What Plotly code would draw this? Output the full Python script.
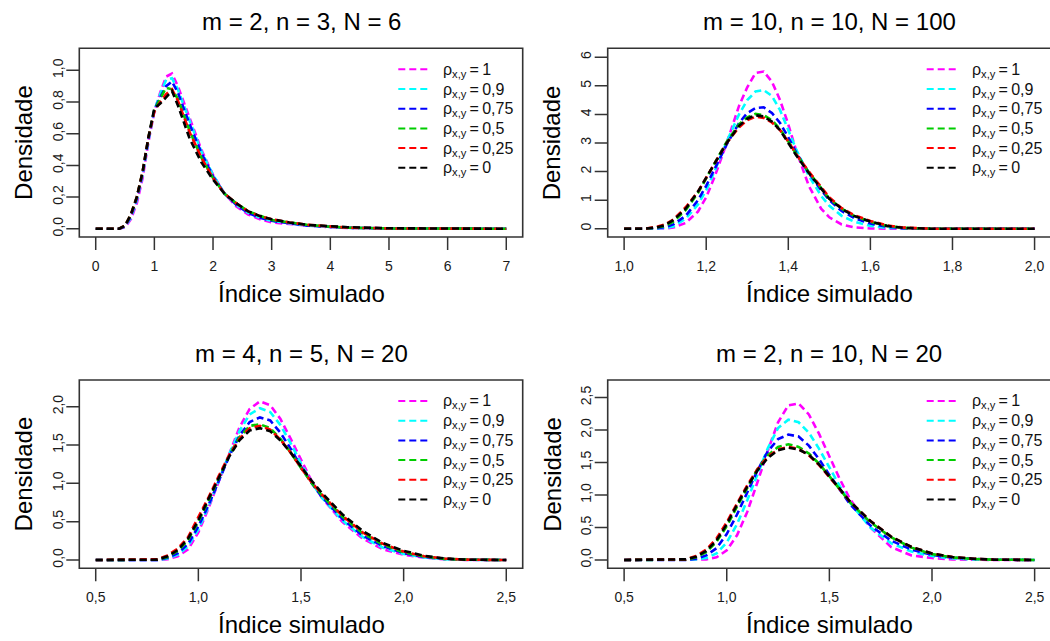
import plotly.graph_objects as go

FONT = "Liberation Sans, Arial, sans-serif"
W, H = 1050, 641

# ---------------- data ----------------
rho_labels = ["1", "0,9", "0,75", "0,5", "0,25", "0"]
colors = ["#FF00FF", "#00FFFF", "#0000FF", "#00CD00", "#FF0000", "#000000"]
panel_titles = ["m = 2, n = 3, N = 6", "m = 10, n = 10, N = 100",
                "m = 4, n = 5, N = 20", "m = 2, n = 10, N = 20"]

# Panel 1: m = 2, n = 3, N = 6
p1_x = [0, 0.4, 0.5, 0.6, 0.7, 0.8, 0.9, 1.0, 1.1, 1.2, 1.3, 1.4, 1.5, 1.6, 1.8, 2.0,
        2.2, 2.4, 2.6, 2.8, 3.0, 3.3, 3.6, 4.0, 4.3, 5, 6, 7]
p1_rho_1 = [0, 0, 0.01, 0.06, 0.16, 0.32, 0.55, 0.74, 0.86, 0.96, 0.98, 0.90, 0.80, 0.70, 0.50, 0.34,
            0.22, 0.14, 0.09, 0.06, 0.04, 0.03, 0.02, 0.01, 0.005, 0.002, 0.001, 0]
p1_rho_09 = [0, 0, 0.015, 0.07, 0.18, 0.34, 0.56, 0.75, 0.85, 0.94, 0.95, 0.88, 0.78, 0.68, 0.49, 0.34,
             0.22, 0.15, 0.10, 0.07, 0.05, 0.035, 0.02, 0.012, 0.006, 0.002, 0.001, 0]
p1_rho_075 = [0, 0, 0.015, 0.08, 0.19, 0.35, 0.57, 0.75, 0.83, 0.90, 0.93, 0.86, 0.76, 0.66, 0.48, 0.33,
              0.22, 0.15, 0.10, 0.07, 0.05, 0.035, 0.02, 0.012, 0.006, 0.002, 0.001, 0]
p1_rho_05 = [0, 0, 0.02, 0.09, 0.20, 0.36, 0.58, 0.75, 0.82, 0.89, 0.88, 0.82, 0.72, 0.62, 0.45, 0.32,
             0.22, 0.16, 0.11, 0.08, 0.055, 0.04, 0.025, 0.013, 0.007, 0.002, 0.001, 0]
p1_rho_025 = [0, 0, 0.02, 0.09, 0.20, 0.36, 0.58, 0.74, 0.80, 0.85, 0.88, 0.81, 0.71, 0.61, 0.45, 0.32,
              0.22, 0.16, 0.11, 0.08, 0.06, 0.04, 0.025, 0.014, 0.007, 0.002, 0.001, 0]
p1_rho_0 = [0, 0, 0.02, 0.09, 0.20, 0.36, 0.58, 0.76, 0.79, 0.83, 0.87, 0.78, 0.67, 0.57, 0.42, 0.31,
            0.22, 0.16, 0.11, 0.08, 0.06, 0.04, 0.025, 0.015, 0.01, 0.003, 0.001, 0]

# Panel 2: m = 10, n = 10, N = 100
p2_x = [1.0, 1.05, 1.08, 1.1, 1.12, 1.15, 1.18, 1.2, 1.22, 1.25, 1.28, 1.3, 1.32, 1.34, 1.36,
        1.38, 1.4, 1.42, 1.45, 1.48, 1.5, 1.53, 1.56, 1.6, 1.64, 1.68, 1.75, 1.85, 2.0]
p2_rho_1 = [0, 0, 0, 0.01, 0.04, 0.2, 0.6, 1.1, 1.8, 3.0, 4.3, 4.95, 5.45, 5.5, 5.15,
            4.5, 3.65, 2.7, 1.5, 0.7, 0.4, 0.15, 0.05, 0.01, 0, 0, 0, 0, 0]
p2_rho_09 = [0, 0, 0.01, 0.03, 0.08, 0.35, 0.85, 1.35, 2.0, 3.05, 4.0, 4.5, 4.8, 4.85, 4.65,
             4.15, 3.45, 2.75, 1.85, 1.15, 0.8, 0.45, 0.25, 0.1, 0.03, 0.01, 0, 0, 0]
p2_rho_075 = [0, 0, 0.02, 0.06, 0.15, 0.45, 1.0, 1.5, 2.1, 2.95, 3.7, 4.05, 4.22, 4.25, 4.05,
              3.7, 3.2, 2.65, 1.95, 1.35, 1.0, 0.62, 0.38, 0.18, 0.07, 0.02, 0, 0, 0]
p2_rho_05 = [0, 0, 0.04, 0.1, 0.25, 0.65, 1.25, 1.75, 2.3, 3.05, 3.65, 3.9, 4.02, 3.98, 3.8,
             3.48, 3.05, 2.6, 1.98, 1.42, 1.05, 0.7, 0.45, 0.24, 0.1, 0.03, 0, 0, 0]
p2_rho_025 = [0, 0, 0.07, 0.15, 0.32, 0.75, 1.3, 1.8, 2.3, 3.0, 3.55, 3.8, 3.92, 3.88, 3.72,
              3.45, 3.05, 2.6, 2.0, 1.45, 1.1, 0.72, 0.48, 0.27, 0.12, 0.04, 0, 0, 0]
p2_rho_0 = [0, 0, 0.05, 0.13, 0.3, 0.7, 1.3, 1.8, 2.3, 3.0, 3.6, 3.85, 3.97, 3.93, 3.75,
            3.45, 3.0, 2.55, 1.95, 1.4, 1.05, 0.7, 0.45, 0.25, 0.1, 0.03, 0, 0, 0]

# Panel 3: m = 4, n = 5, N = 20
p3_x = [0.5, 0.8, 0.85, 0.9, 0.95, 1.0, 1.05, 1.1, 1.15, 1.2, 1.25, 1.3, 1.35, 1.4, 1.45,
        1.5, 1.55, 1.6, 1.7, 1.8, 1.9, 2.0, 2.1, 2.2, 2.3, 2.5]
p3_rho_1 = [0, 0, 0.01, 0.05, 0.14, 0.36, 0.68, 1.03, 1.4, 1.73, 1.97, 2.07, 2.02, 1.84, 1.58,
            1.3, 1.04, 0.82, 0.5, 0.28, 0.14, 0.07, 0.03, 0.01, 0.002, 0]
p3_rho_09 = [0, 0, 0.02, 0.07, 0.18, 0.4, 0.7, 1.03, 1.38, 1.68, 1.9, 1.98, 1.93, 1.76, 1.52,
             1.26, 1.02, 0.82, 0.52, 0.3, 0.16, 0.08, 0.035, 0.01, 0.003, 0]
p3_rho_075 = [0, 0, 0.03, 0.09, 0.21, 0.44, 0.72, 1.03, 1.35, 1.62, 1.8, 1.86, 1.82, 1.66, 1.45,
              1.22, 1.01, 0.83, 0.54, 0.32, 0.18, 0.09, 0.04, 0.015, 0.005, 0]
p3_rho_05 = [0, 0.005, 0.04, 0.12, 0.26, 0.5, 0.78, 1.07, 1.36, 1.6, 1.75, 1.77, 1.72, 1.58, 1.4,
             1.2, 1.01, 0.85, 0.57, 0.35, 0.2, 0.1, 0.045, 0.015, 0.005, 0]
p3_rho_025 = [0, 0.01, 0.06, 0.15, 0.3, 0.55, 0.82, 1.1, 1.37, 1.58, 1.72, 1.75, 1.7, 1.57, 1.4,
              1.2, 1.02, 0.86, 0.58, 0.36, 0.21, 0.11, 0.05, 0.02, 0.005, 0]
p3_rho_0 = [0, 0.005, 0.05, 0.13, 0.28, 0.52, 0.8, 1.08, 1.35, 1.56, 1.69, 1.72, 1.68, 1.56, 1.40,
            1.22, 1.04, 0.88, 0.6, 0.38, 0.22, 0.12, 0.055, 0.02, 0.005, 0]

# Panel 4: m = 2, n = 10, N = 20
p4_x = p3_x
p4_rho_1 = [0, 0, 0, 0.01, 0.04, 0.15, 0.38, 0.74, 1.2, 1.68, 2.12, 2.38, 2.41, 2.24, 1.94,
            1.59, 1.25, 0.94, 0.5, 0.2, 0.07, 0.03, 0.01, 0.003, 0, 0]
p4_rho_09 = [0, 0, 0.01, 0.03, 0.1, 0.27, 0.55, 0.92, 1.33, 1.72, 2.03, 2.16, 2.12, 1.96, 1.71,
             1.42, 1.14, 0.88, 0.5, 0.26, 0.13, 0.06, 0.025, 0.01, 0.003, 0]
p4_rho_075 = [0, 0, 0.02, 0.07, 0.18, 0.4, 0.7, 1.03, 1.38, 1.67, 1.86, 1.93, 1.9, 1.76, 1.55,
              1.31, 1.08, 0.86, 0.53, 0.3, 0.16, 0.08, 0.035, 0.015, 0.005, 0]
p4_rho_05 = [0, 0.005, 0.04, 0.12, 0.28, 0.52, 0.82, 1.12, 1.4, 1.61, 1.74, 1.78, 1.74, 1.64, 1.48,
             1.29, 1.09, 0.89, 0.58, 0.35, 0.19, 0.09, 0.04, 0.015, 0.005, 0]
p4_rho_025 = [0, 0.01, 0.06, 0.16, 0.33, 0.58, 0.87, 1.15, 1.4, 1.59, 1.7, 1.74, 1.71, 1.61, 1.46,
              1.28, 1.09, 0.9, 0.6, 0.36, 0.2, 0.1, 0.045, 0.02, 0.005, 0]
p4_rho_0 = [0, 0.01, 0.05, 0.14, 0.3, 0.55, 0.85, 1.13, 1.38, 1.57, 1.69, 1.73, 1.70, 1.62, 1.47,
            1.29, 1.1, 0.9, 0.6, 0.36, 0.2, 0.1, 0.045, 0.02, 0.005, 0]

# tick values / labels
p1_xticks = [0, 1, 2, 3, 4, 5, 6, 7]
p1_xlabels = ["0", "1", "2", "3", "4", "5", "6", "7"]
p1_yticks = [0, 0.2, 0.4, 0.6, 0.8, 1.0]
p1_ylabels = ["0,0", "0,2", "0,4", "0,6", "0,8", "1,0"]
p2_xticks = [1.0, 1.2, 1.4, 1.6, 1.8, 2.0]
p2_xlabels = ["1,0", "1,2", "1,4", "1,6", "1,8", "2,0"]
p2_yticks = [0, 1, 2, 3, 4, 5, 6]
p2_ylabels = ["0", "1", "2", "3", "4", "5", "6"]
p3_xticks = [0.5, 1.0, 1.5, 2.0, 2.5]
p3_xlabels = ["0,5", "1,0", "1,5", "2,0", "2,5"]
p3_yticks = [0, 0.5, 1.0, 1.5, 2.0]
p3_ylabels = ["0,0", "0,5", "1,0", "1,5", "2,0"]
p4_xticks = p3_xticks
p4_xlabels = p3_xlabels
p4_yticks = [0, 0.5, 1.0, 1.5, 2.0, 2.5]
p4_ylabels = ["0,0", "0,5", "1,0", "1,5", "2,0", "2,5"]

panels = [
    dict(x=p1_x, ys=[p1_rho_1, p1_rho_09, p1_rho_075, p1_rho_05, p1_rho_025, p1_rho_0],
         xt=p1_xticks, xl=p1_xlabels, yt=p1_yticks, yl=p1_ylabels,
         xr=[-0.28, 7.28], yr=[-0.052, 1.139]),
    dict(x=p2_x, ys=[p2_rho_1, p2_rho_09, p2_rho_075, p2_rho_05, p2_rho_025, p2_rho_0],
         xt=p2_xticks, xl=p2_xlabels, yt=p2_yticks, yl=p2_ylabels,
         xr=[0.96, 2.0376], yr=[-0.29, 6.315]),
    dict(x=p3_x, ys=[p3_rho_1, p3_rho_09, p3_rho_075, p3_rho_05, p3_rho_025, p3_rho_0],
         xt=p3_xticks, xl=p3_xlabels, yt=p3_yticks, yl=p3_ylabels,
         xr=[0.42, 2.58], yr=[-0.108, 2.348]),
    dict(x=p4_x, ys=[p4_rho_1, p4_rho_09, p4_rho_075, p4_rho_05, p4_rho_025, p4_rho_0],
         xt=p4_xticks, xl=p4_xlabels, yt=p4_yticks, yl=p4_ylabels,
         xr=[0.42, 2.5749], yr=[-0.128, 2.77]),
]

# ---------------- layout geometry (pixels) ----------------
box_x = [(79.3, 522.7), (607.7, 1051.0), (79.3, 522.7), (607.7, 1051.0)]
box_y = [(48.3, 237.0), (48.3, 237.0), (380.0, 568.3), (380.0, 568.3)]
TICKLEN = 13


def px(x):
    return x / W


def py(y):
    return 1 - y / H


fig = go.Figure()
layout = dict(width=W, height=H, margin=dict(l=0, r=0, t=0, b=0),
              paper_bgcolor="white", plot_bgcolor="white",
              font=dict(family=FONT, color="black"), showlegend=False)
annotations = []
shapes = []

for i, p in enumerate(panels):
    k = i + 1
    xa = "x" if k == 1 else f"x{k}"
    ya = "y" if k == 1 else f"y{k}"
    for j, yv in enumerate(p["ys"]):
        fig.add_trace(go.Scatter(
            x=p["x"], y=yv, mode="lines", xaxis=xa, yaxis=ya,
            name="ρx,y = " + rho_labels[j],
            line=dict(color=colors[j], width=2.6, dash="7px,4px"),
            showlegend=False))
    x0, x1 = box_x[i]
    y0, y1 = box_y[i]
    dom_x = [px(x0), min(1.0, px(x1))]
    dom_y = [py(y1), py(y0)]
    axcommon = dict(showgrid=False, zeroline=False, showline=False, ticks="",
                    tickfont=dict(size=14, family=FONT, color="#1a1a1a"))
    layout["xaxis" if k == 1 else f"xaxis{k}"] = dict(
        domain=dom_x, range=p["xr"], anchor=ya, tickmode="array",
        tickvals=p["xt"], ticktext=p["xl"], ticklabelstandoff=TICKLEN + 6, **axcommon)
    layout["yaxis" if k == 1 else f"yaxis{k}"] = dict(
        domain=dom_y, range=p["yr"], anchor=xa, tickmode="array",
        tickvals=p["yt"], ticktext=p["yl"], tickangle=-90,
        ticklabelstandoff=TICKLEN, **axcommon)
    # tick marks, placed through the axes' own scales
    for tv in p["xt"]:
        shapes.append(dict(type="line", xref=xa, yref="paper", x0=tv, x1=tv,
                           y0=py(y1), y1=py(y1 + TICKLEN),
                           line=dict(color="#333", width=1.5)))
    for tv in p["yt"]:
        shapes.append(dict(type="line", xref="paper", yref=ya, y0=tv, y1=tv,
                           x0=px(x0 - TICKLEN), x1=px(x0),
                           line=dict(color="#333", width=1.5)))
    # plot frame
    shapes.append(dict(type="rect", xref="paper", yref="paper",
                       x0=px(x0), x1=px(x1), y0=py(y1), y1=py(y0),
                       line=dict(color="#333", width=1.6), fillcolor="rgba(0,0,0,0)",
                       layer="above"))
    # legend (key lines + labels) in the top-right corner of the frame
    lx0 = x0 + 319.0
    for j in range(len(rho_labels)):
        ry = y0 + 21.0 + 19.7 * j
        shapes.append(dict(type="line", xref="paper", yref="paper",
                           x0=px(lx0), x1=px(lx0 + 29), y0=py(ry), y1=py(ry),
                           line=dict(color=colors[j], width=2, dash="7px,4px")))
        annotations.append(dict(text="ρ<sub>x,y</sub>\u2009=\u2009" + rho_labels[j],
                                xref="paper", yref="paper", x=px(lx0 + 43), y=py(ry + 1),
                                xanchor="left", yanchor="middle", showarrow=False,
                                font=dict(size=16, family=FONT, color="#111")))
    cx = (x0 + x1) / 2
    annotations.append(dict(text=panel_titles[i], xref="paper", yref="paper",
                            x=px(cx), y=py(y0 - 27), xanchor="center", yanchor="middle",
                            showarrow=False, font=dict(size=24, family=FONT)))
    annotations.append(dict(text="Índice simulado", xref="paper", yref="paper",
                            x=px(cx), y=py(y1 + 56), xanchor="center", yanchor="middle",
                            showarrow=False, font=dict(size=24, family=FONT)))
    annotations.append(dict(text="Densidade", xref="paper", yref="paper",
                            x=px(x0 - 56), y=py((y0 + y1) / 2), xanchor="center",
                            yanchor="middle", textangle=-90,
                            showarrow=False, font=dict(size=24, family=FONT)))

layout["annotations"] = annotations
layout["shapes"] = shapes
fig.update_layout(**layout)
fig.write_html("out.html", config={"displayModeBar": False},
               post_script="document.body.style.margin='0';"
                           "document.body.style.overflow='hidden';")
